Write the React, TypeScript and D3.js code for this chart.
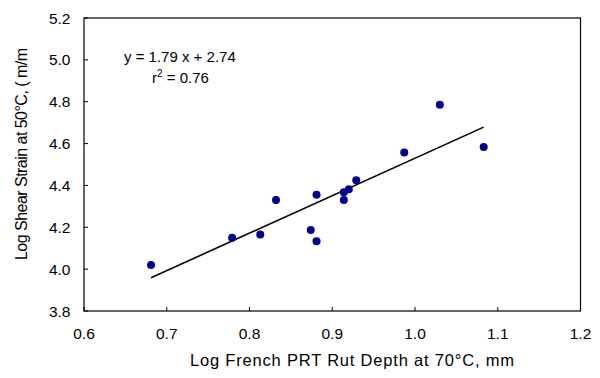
import React from "react";
import * as d3 from "d3";

const xValues = [0.681, 0.779, 0.813, 0.832, 0.881, 0.874, 0.881, 0.914, 0.914, 0.920, 0.929, 0.987, 1.030, 1.083];
const yValues = [4.020, 4.150, 4.165, 4.330, 4.356, 4.187, 4.133, 4.330, 4.367, 4.382, 4.425, 4.557, 4.786, 4.584];
const xTicks = [0.6, 0.7, 0.8, 0.9, 1.0, 1.1, 1.2];
const yTicks = [3.8, 4.0, 4.2, 4.4, 4.6, 4.8, 5.0, 5.2];
const slope = [1.79];
const intercept = [2.74];
const rSquared = ["0.76"];

const W = 600, H = 378;
const L = 84, R = 580.5, T = 18, B = 311;
const FONT = "'Liberation Sans', Arial, sans-serif";

export default function App() {
  const x = d3.scaleLinear().domain([0.6, 1.2]).range([L, R]);
  const y = d3.scaleLinear().domain([3.8, 5.2]).range([B, T]);
  const xMin = d3.min(xValues) as number;
  const xMax = d3.max(xValues) as number;
  const fit = (v: number) => slope[0] * v + intercept[0];
  const line = d3.line<number>().x((d) => x(d)).y((d) => y(fit(d)));
  const pts = xValues.map((v, i) => ({ x: v, y: yValues[i] }));

  return (
    <svg width={W} height={H} style={{ position: "absolute", left: 0, top: 0, background: "#fff" }} fontFamily={FONT}>
      <rect x={0} y={0} width={W} height={H} fill="#fff" />
      <rect x={L} y={T} width={R - L} height={B - T} fill="none" stroke="#000" strokeWidth={1.2} />
      {xTicks.map((t) => (
        <g key={"x" + t}>
          <line x1={x(t)} x2={x(t)} y1={B} y2={B - 4} stroke="#000" />
          <text x={x(t)} y={338.5} textAnchor="middle" fontSize={15.5}>{t.toFixed(1)}</text>
        </g>
      ))}
      {yTicks.map((t) => (
        <g key={"y" + t}>
          <line x1={L} x2={L + 4} y1={y(t)} y2={y(t)} stroke="#000" />
          <text x={70.5} y={y(t) + 5.5} textAnchor="end" fontSize={15.5}>{t.toFixed(1)}</text>
        </g>
      ))}
      <path d={line([xMin, xMax]) || ""} stroke="#000" strokeWidth={1.6} fill="none" />
      {pts.map((p, i) => (
        <circle key={i} cx={x(p.x)} cy={y(p.y)} r={4} fill="#00008c" />
      ))}
      <text x={124} y={62} fontSize={15}>{`y = ${slope[0]} x + ${intercept[0]}`}</text>
      <text x={152} y={83} fontSize={15}>
        r<tspan dy={-6} fontSize={10}>2</tspan><tspan dy={6}>{` = ${rSquared[0]}`}</tspan>
      </text>
      <text x={190} y={365.5} fontSize={16.5} textLength={324} lengthAdjust="spacing">Log French PRT Rut Depth at 70°C, mm</text>
      <text transform={`translate(26.5,260) rotate(-90)`} fontSize={16} textLength={212} lengthAdjust="spacing">Log Shear Strain at 50°C, (  m/m</text>
    </svg>
  );
}
